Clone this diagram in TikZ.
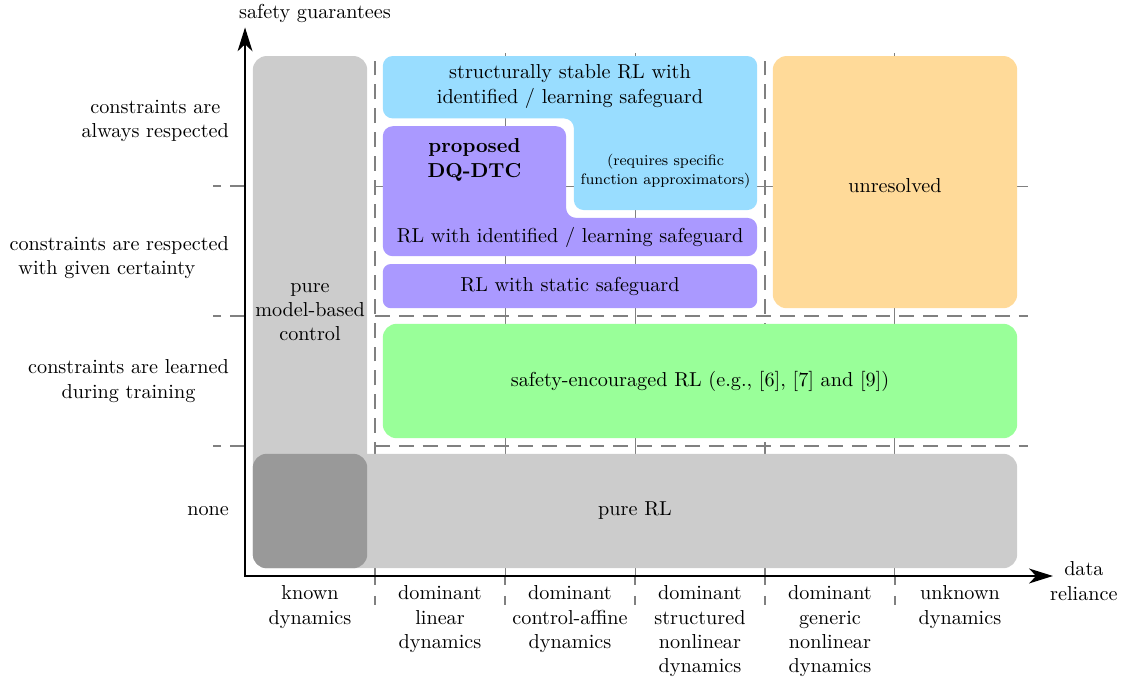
\documentclass[tikz,border=0pt]{standalone}
\usetikzlibrary{arrows.meta}
\definecolor{cblue}{HTML}{99DDFF}
\definecolor{cpurple}{HTML}{AA99FF}
\definecolor{cgreen}{HTML}{99FF99}
\definecolor{corange}{HTML}{FFDA99}
\definecolor{clgray}{HTML}{CCCCCC}
\definecolor{cdgray}{HTML}{999999}
\tikzset{
  dashline/.style={gray, line width=0.6pt, dash pattern=on 7.5pt off 4.5pt},
  tickline/.style={gray, line width=0.6pt, dash pattern=on 4.5pt off 5.5pt},
  gridline/.style={gray, line width=0.5pt},
  axisline/.style={line width=0.8pt,
    {Stealth[length=12pt,width=7.5pt,inset=3.5pt]}-{Stealth[length=12pt,width=7.5pt,inset=3.5pt]}},
  bigbox/.style={rounded corners=7pt},
  midbox/.style={rounded corners=5pt},
  barbox/.style={rounded corners=4pt},
  lbl/.style={align=center},
}
\begin{document}
\begin{tikzpicture}[x=2.3cm,y=2.3cm,font=\fontsize{10.17}{12.3}\selectfont]
\useasboundingbox (-1.885,-0.777) rectangle (6.754,4.431);

% grid
\foreach \x in {2,3,5} \draw[gridline] (\x,0) -- (\x,4.02);
\draw[gridline] (1,3) -- (6.02,3);
\foreach \x in {1,4} \draw[dashline] (\x,0) -- (\x,4);
\foreach \y in {1,2} \draw[dashline] (1,\y) -- (6.02,\y);
\foreach \y in {1,2,3} \draw[dashline] (0,\y) -- (-0.25,\y);
\foreach \x in {1,...,5} \draw[tickline] (\x,0) -- (\x,-0.25);

% boxes
\fill[clgray, bigbox] (0.06,0.06) rectangle (0.94,4.0);
\fill[clgray, bigbox] (0.06,0.06) rectangle (5.94,0.94);
\fill[cdgray, bigbox] (0.06,0.06) rectangle (0.94,0.94);
\fill[cgreen, bigbox] (1.06,1.06) rectangle (5.94,1.94);
\fill[corange, bigbox] (4.06,2.06) rectangle (5.94,4.0);
\fill[cpurple, barbox] (1.06,2.06) rectangle (3.94,2.40);
\fill[cpurple, midbox] (1.06,2.46) -- (3.94,2.46) -- (3.94,2.755) -- (2.47,2.755)
  -- (2.47,3.46) -- (1.06,3.46) -- cycle;
\fill[cblue, midbox] (1.06,3.52) -- (2.53,3.52) -- (2.53,2.815) -- (3.94,2.815)
  -- (3.94,4.0) -- (1.06,4.0) -- cycle;

% box texts
\node[lbl] (ss) at (2.5,3.765) {structurally stable RL with\\identified / learning safeguard};
\node[lbl, font=\fontsize{10.17}{12.3}\selectfont\bfseries] (dq) at (1.765,3.2) {proposed\\DQ-DTC};
\node[lbl, font=\fontsize{7.6}{9.6}\selectfont] (req) at (3.235,3.115) {(requires specific\\function approximators)};
\node (ident) at (2.5,2.607) {RL with identified / learning safeguard};
\node (stat) at (2.5,2.23) {RL with static safeguard};
\node (unres) at (5,3.0) {unresolved};
\node (enc) at (3.5,1.5) {safety-encouraged RL (e.g., [6], [7] and [9])};
\node (prl) at (3.0,0.5) {pure RL};
\node[lbl] (pmb) at (0.5,2.03) {pure\\model-based\\control};

% axes
\coordinate (O) at (0,0);
\coordinate (xend) at (6.215,0);
\coordinate (yend) at (0,4.22);
\draw[axisline] (yend) -- (O) -- (xend);
\node[anchor=south west] (ylab) at (-0.1,4.206) {safety guarantees};
\node[lbl, anchor=west] (xlab) at (6.14,-0.04) {data\\reliance};

% row labels
\node[lbl, anchor=east] (r4) at (-0.07,3.5) {constraints are\\always respected};
\node[lbl, anchor=east] (r3) at (-0.07,2.45) {constraints are respected\\with given certainty\hspace*{12.5pt}};
\node[lbl, anchor=east] (r2) at (-0.07,1.5) {constraints are learned\\during training};
\node[lbl, anchor=east] (r1) at (-0.07,0.5) {none};

% column labels
\node[lbl, anchor=north] (c1) at (0.5,-0.02) {known\\dynamics};
\node[lbl, anchor=north] (c2) at (1.5,-0.02) {dominant\\linear\\dynamics};
\node[lbl, anchor=north] (c3) at (2.5,-0.02) {dominant\\control-affine\\dynamics};
\node[lbl, anchor=north] (c4) at (3.5,-0.02) {dominant\\structured\\nonlinear\\dynamics};
\node[lbl, anchor=north] (c5) at (4.5,-0.02) {dominant\\generic\\nonlinear\\dynamics};
\node[lbl, anchor=north] (c6) at (5.5,-0.02) {unknown\\dynamics};
\end{tikzpicture}
\end{document}
